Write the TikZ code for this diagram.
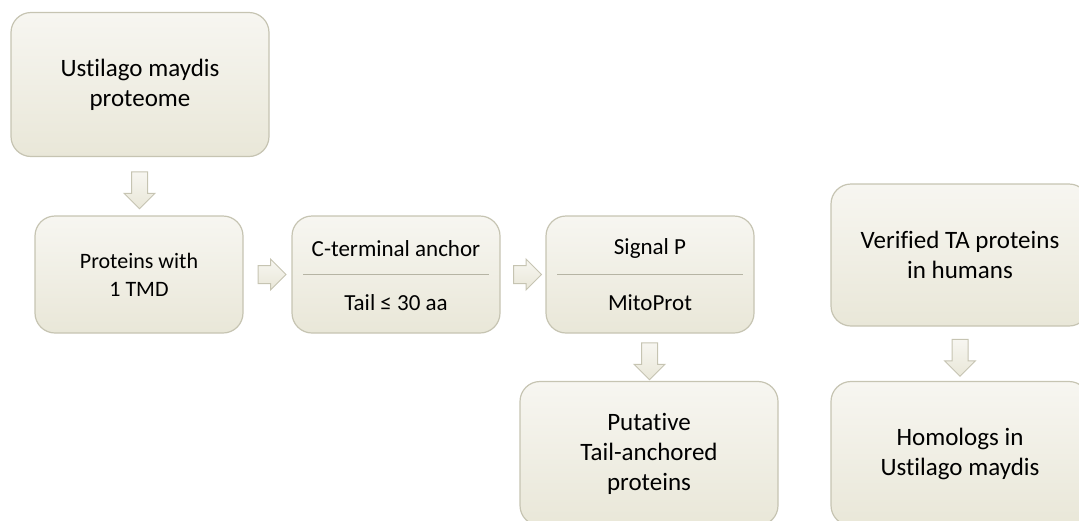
\documentclass[tikz,border=0pt]{standalone}
\usepackage{fontspec}
\setmainfont{Carlito}[Ligatures={NoCommon}]
\usetikzlibrary{shapes.arrows,calc}
\definecolor{boxtop}{HTML}{F7F6F1}
\definecolor{boxbot}{HTML}{E9E7D8}
\definecolor{boxline}{HTML}{C6C4B2}
\definecolor{rulecol}{HTML}{B6B4A4}
\begin{document}
\begin{tikzpicture}[x=1pt, y=-1pt,
  stage/.style={draw=boxline, line width=1.2pt, rounded corners=20pt, top color=boxtop, bottom color=boxbot, align=center, inner sep=0pt, font=\fontsize{25}{30}\selectfont},
  bigstage/.style={stage, minimum width=258pt, minimum height=144pt},
  smallstage/.style={stage, minimum width=208pt, minimum height=117pt, font=\fontsize{22}{28}\selectfont},
  blockarr/.style={single arrow, draw=boxline, line width=1pt, top color=boxtop, bottom color=boxbot},
  downarr/.style={blockarr, shape border rotate=270, inner sep=7.5pt, minimum height=37pt, single arrow head extend=7.5pt},
  rightarr/.style={blockarr, inner sep=8.5pt, minimum height=28pt, single arrow head extend=6.5pt},
  filt/.style={font=\fontsize{23}{27}\selectfont}]
\clip (0,0) rectangle (1079,520);
\useasboundingbox (0,0) rectangle (1079,520);
% left column and filter chain
\node[bigstage] (proteome) at (140,84.5) {Ustilago maydis\\proteome};
\node[smallstage] (tmd) at (139,274.5) {Proteins with\\1 TMD};
\node[smallstage] (anchor) at (396,274.5) {};
\node[smallstage] (signal) at (650,274.5) {};
\node[bigstage] (putative) at (649,453.5) {Putative\\Tail-anchored\\proteins};
% human homologs
\node[bigstage, minimum height=142pt] (human) at (960,255) {Verified TA proteins\\in humans};
\node[bigstage] (homolog) at (960,453.5) {Homologs in\\Ustilago maydis};
% filter criteria
\draw[rulecol, line width=1.5pt] ([xshift=12pt]anchor.west) -- ([xshift=-12pt]anchor.east);
\draw[rulecol, line width=1.5pt] ([xshift=12pt]signal.west) -- ([xshift=-12pt]signal.east);
\node[filt] (cterm) at ([yshift=26pt]anchor.center) {C-terminal anchor};
\node[filt] (tail) at ([yshift=-28pt]anchor.center) {Tail ≤ 30 aa};
\node[filt] (sigp) at ([yshift=26pt]signal.center) {Signal P};
\node[filt] (mito) at ([yshift=-28pt]signal.center) {MitoProt};
% block arrows
\node[downarr] (a1) at ($(proteome.south)!0.5!(tmd.north)$) {};
\node[rightarr] (a2) at ($(tmd.east)!0.5!(anchor.west)$) {};
\node[rightarr] (a3) at ($(anchor.east)!0.5!(signal.west)$) {};
\node[downarr] (a4) at ($(signal.south)!0.5!(putative.north)$) {};
\node[downarr] (a5) at ($(human.south)!0.5!(homolog.north)$) {};
\end{tikzpicture}
\end{document}
